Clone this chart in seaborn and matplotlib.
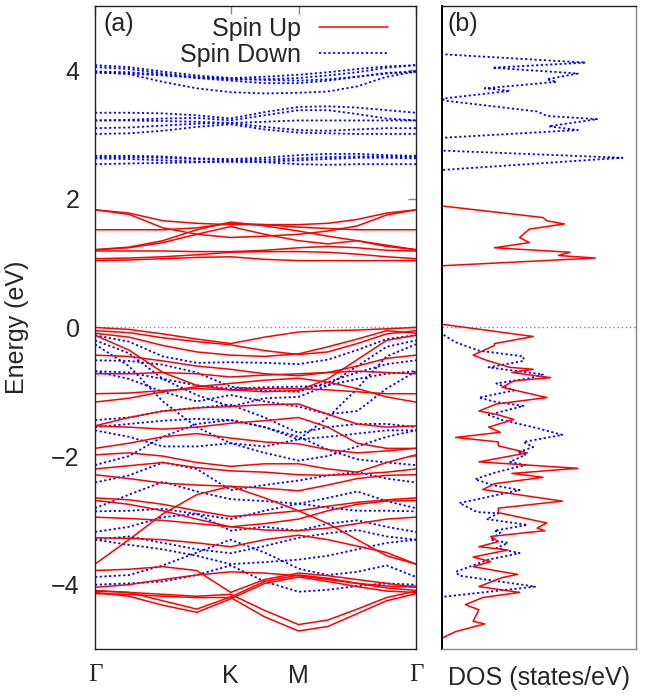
import numpy as np
import pandas as pd
import matplotlib
matplotlib.use('Agg')
import matplotlib.pyplot as plt
from matplotlib.lines import Line2D
import seaborn as sns

# k-path nodes: Gamma, 3 points, K, mid, M, 3 points, Gamma
k_nodes = [0.0, 0.2887, 0.5774, 0.8660, 1.1547, 1.4434, 1.7321, 1.9821, 2.2321, 2.4821, 2.7321]
k_ticks = [0.0, 1.1547, 1.7321, 2.7321]
k_labels = ['Γ', 'K', 'M', 'Γ']

# spin up bands (eV) at k_nodes
up_bands = [
    # conduction
    [1.83, 1.78, 1.66, 1.62, 1.60, 1.60, 1.60, 1.62, 1.68, 1.78, 1.83],
    [1.83, 1.76, 1.55, 1.45, 1.40, 1.42, 1.45, 1.50, 1.58, 1.75, 1.83],
    [1.52, 1.52, 1.52, 1.55, 1.62, 1.60, 1.56, 1.54, 1.52, 1.52, 1.52],
    [1.21, 1.25, 1.35, 1.52, 1.64, 1.58, 1.50, 1.42, 1.35, 1.26, 1.21],
    [1.21, 1.24, 1.32, 1.45, 1.57, 1.45, 1.35, 1.30, 1.35, 1.28, 1.21],
    [1.19, 1.19, 1.19, 1.18, 1.18, 1.20, 1.24, 1.26, 1.24, 1.20, 1.19],
    [1.07, 1.08, 1.10, 1.13, 1.17, 1.18, 1.18, 1.17, 1.14, 1.10, 1.07],
    [1.04, 1.05, 1.07, 1.09, 1.10, 1.06, 1.04, 1.04, 1.04, 1.04, 1.04],
    # valence
    [0.00, -0.03, -0.10, -0.18, -0.25, -0.15, -0.07, -0.05, -0.04, -0.02, 0.00],
    [-0.05, -0.08, -0.16, -0.22, -0.27, -0.36, -0.42, -0.38, -0.25, -0.10, -0.05],
    [-0.09, -0.15, -0.28, -0.38, -0.43, -0.45, -0.41, -0.30, -0.18, -0.05, -0.09],
    [-0.12, -0.35, -0.70, -0.90, -0.97, -1.00, -0.98, -0.80, -0.50, -0.20, -0.12],
    [-0.43, -0.45, -0.52, -0.60, -0.65, -0.72, -0.75, -0.70, -0.60, -0.48, -0.43],
    [-0.72, -0.72, -0.70, -0.72, -0.77, -0.74, -0.72, -0.70, -0.68, -0.70, -0.72],
    [-1.03, -1.02, -0.98, -0.95, -0.97, -0.95, -0.95, -0.97, -1.00, -1.03, -1.03],
    [-1.16, -1.10, -1.00, -0.92, -0.87, -0.82, -0.79, -0.85, -0.95, -1.08, -1.16],
    [-1.53, -1.40, -1.30, -1.25, -1.23, -1.20, -1.19, -1.35, -1.50, -1.55, -1.53],
    [-1.53, -1.55, -1.58, -1.55, -1.49, -1.45, -1.40, -1.55, -1.80, -1.88, -1.88],
    [-1.88, -1.80, -1.70, -1.65, -1.72, -1.78, -1.81, -1.90, -1.95, -1.92, -1.88],
    [-1.98, -1.95, -2.00, -2.10, -2.16, -2.12, -2.12, -2.20, -2.25, -2.10, -1.98],
    [-2.20, -2.15, -2.10, -2.18, -2.23, -2.25, -2.29, -2.30, -2.28, -2.25, -2.20],
    [-2.29, -2.35, -2.42, -2.45, -2.47, -2.50, -2.54, -2.45, -2.35, -2.30, -2.29],
    [-3.68, -3.30, -2.90, -2.60, -2.47, -2.65, -2.85, -3.05, -3.30, -3.55, -3.68],
    [-2.65, -2.68, -2.75, -2.85, -2.94, -2.90, -2.85, -2.78, -2.72, -2.68, -2.65],
    [-2.69, -2.75, -2.85, -2.98, -3.10, -3.05, -2.98, -2.85, -2.75, -2.70, -2.69],
    [-2.95, -2.97, -3.00, -3.05, -3.10, -3.15, -3.16, -3.12, -3.05, -2.98, -2.95],
    [-3.27, -3.28, -3.30, -3.35, -3.41, -3.30, -3.23, -3.30, -3.40, -3.50, -3.68],
    [-3.78, -3.76, -3.72, -3.78, -4.12, -3.92, -3.82, -3.86, -3.92, -3.98, -4.04],
    [-4.04, -4.00, -3.92, -3.85, -3.80, -3.82, -3.86, -3.92, -3.98, -4.02, -4.04],
    [-4.09, -4.12, -4.25, -4.38, -4.19, -3.95, -3.85, -3.90, -3.98, -4.05, -4.09],
    [-4.12, -4.18, -4.32, -4.43, -4.22, -3.98, -3.88, -3.95, -4.03, -4.10, -4.12],
    [-4.10, -4.12, -4.15, -4.18, -4.15, -4.40, -4.62, -4.55, -4.38, -4.20, -4.10],
    [-4.14, -4.15, -4.18, -4.20, -4.20, -4.50, -4.72, -4.65, -4.45, -4.25, -4.14],
]

# spin down bands (eV) at k_nodes
dn_bands = [
    # conduction
    [4.08, 4.05, 3.98, 3.92, 3.88, 3.90, 3.93, 3.97, 4.02, 4.06, 4.08],
    [4.05, 4.02, 3.95, 3.89, 3.86, 3.86, 3.88, 3.92, 3.97, 4.04, 4.08],
    [3.98, 3.97, 3.93, 3.88, 3.84, 3.80, 3.80, 3.84, 3.90, 3.96, 3.98],
    [3.98, 3.94, 3.82, 3.72, 3.66, 3.64, 3.65, 3.67, 3.75, 3.90, 3.98],
    [3.96, 3.95, 3.92, 3.89, 3.87, 3.85, 3.84, 3.86, 3.90, 3.95, 3.98],
    [3.34, 3.34, 3.33, 3.30, 3.25, 3.35, 3.43, 3.44, 3.42, 3.38, 3.34],
    [3.22, 3.23, 3.25, 3.26, 3.22, 3.30, 3.38, 3.38, 3.32, 3.25, 3.22],
    [3.22, 3.22, 3.21, 3.20, 3.18, 3.20, 3.22, 3.22, 3.22, 3.22, 3.22],
    [3.10, 3.11, 3.14, 3.17, 3.18, 3.12, 3.07, 3.06, 3.08, 3.10, 3.10],
    [3.01, 3.02, 3.06, 3.12, 3.16, 3.08, 3.03, 3.02, 3.01, 3.01, 3.01],
    [2.67, 2.67, 2.66, 2.63, 2.62, 2.64, 2.68, 2.70, 2.70, 2.68, 2.67],
    [2.65, 2.65, 2.64, 2.62, 2.60, 2.61, 2.63, 2.65, 2.66, 2.66, 2.65],
    [2.63, 2.62, 2.60, 2.58, 2.58, 2.58, 2.60, 2.62, 2.64, 2.64, 2.63],
    [2.54, 2.55, 2.56, 2.57, 2.58, 2.57, 2.54, 2.53, 2.54, 2.54, 2.54],
    # valence
    [-0.12, -0.22, -0.45, -0.55, -0.54, -0.55, -0.57, -0.50, -0.35, -0.18, -0.12],
    [-0.20, -0.40, -0.80, -1.05, -1.23, -1.10, -1.08, -0.90, -0.60, -0.30, -0.20],
    [-0.26, -0.60, -1.15, -1.55, -1.80, -1.85, -1.74, -1.40, -0.95, -0.45, -0.26],
    [-0.51, -0.52, -0.58, -0.70, -0.92, -0.98, -1.00, -0.85, -0.70, -0.57, -0.51],
    [-0.68, -0.70, -0.80, -0.90, -0.95, -0.93, -0.92, -0.90, -0.80, -0.72, -0.68],
    [-0.68, -0.80, -1.00, -1.15, -1.05, -1.15, -1.23, -1.35, -1.30, -0.95, -0.68],
    [-1.44, -1.40, -1.30, -1.25, -1.20, -1.40, -1.64, -1.55, -1.50, -1.50, -1.55],
    [-1.55, -1.50, -1.45, -1.42, -1.44, -1.55, -1.74, -1.70, -1.65, -1.60, -1.60],
    [-1.60, -1.70, -1.85, -1.85, -1.80, -1.95, -2.07, -2.00, -1.85, -1.70, -1.60],
    [-2.14, -2.00, -1.70, -1.50, -1.44, -1.55, -1.70, -1.90, -2.05, -2.10, -2.14],
    [-2.41, -2.30, -2.10, -2.20, -2.53, -2.45, -2.38, -2.30, -2.25, -2.35, -2.41],
    [-2.81, -2.60, -2.40, -2.55, -2.67, -2.70, -2.74, -2.65, -2.55, -2.70, -2.81],
    [-2.86, -2.85, -2.82, -2.90, -2.98, -2.85, -2.74, -2.80, -2.85, -2.85, -2.86],
    [-3.18, -3.10, -2.95, -2.90, -3.16, -3.10, -3.16, -3.05, -3.00, -3.10, -3.18],
    [-3.30, -3.25, -3.35, -3.45, -3.51, -3.40, -3.27, -3.20, -3.15, -3.25, -3.30],
    [-3.30, -3.38, -3.45, -3.55, -3.68, -3.65, -3.61, -3.55, -3.45, -3.35, -3.30],
    [-3.88, -3.85, -3.70, -3.50, -3.30, -3.50, -3.75, -3.85, -3.80, -3.70, -3.88],
    [-4.00, -3.98, -3.95, -3.85, -3.70, -3.95, -4.11, -4.08, -4.02, -3.98, -4.00],
]

# DOS (states/eV)
dos_up_E = [5.0, 1.89, 1.71, 1.66, 1.61, 1.53, 1.40, 1.32, 1.24, 1.17, 1.12, 1.08, 0.96,
            0.05, -0.14, -0.25, -0.28, -0.43, -0.51, -0.62, -0.65, -0.70, -0.78, -0.83, -0.93,
            -1.09, -1.19, -1.30, -1.35, -1.43, -1.55, -1.63, -1.71, -1.78, -1.84, -1.95, -2.09,
            -2.19, -2.27, -2.33, -2.43, -2.52, -2.70, -2.81, -2.88, -3.04, -3.12, -3.16, -3.25,
            -3.33, -3.41, -3.46, -3.57, -3.64, -3.72, -3.84, -3.89, -4.03, -4.12, -4.20, -4.31,
            -4.39, -4.57, -4.61, -4.73, -4.83, -5.0]
dos_up = [0.0, 0.0, 5.2, 5.4, 6.3, 4.5, 4.0, 4.5, 2.7, 6.6, 6.0, 7.9, 0.0,
          0.0, 4.7, 2.7, 2.7, 1.6, 2.3, 3.5, 4.7, 3.6, 5.6, 3.7, 3.1,
          5.4, 2.8, 1.9, 2.8, 3.7, 2.4, 3.0, 0.7, 2.9, 2.9, 4.4, 1.9,
          7.0, 3.6, 5.2, 2.7, 2.1, 6.2, 2.9, 2.9, 5.4, 4.9, 5.3, 2.5,
          2.9, 1.9, 3.4, 1.6, 2.5, 1.6, 3.9, 3.1, 1.9, 4.0, 2.1, 1.2,
          1.9, 1.6, 2.2, 0.7, 0.0, 0.0]

dos_dn_E = [5.0, 4.25, 4.12, 4.04, 3.95, 3.86, 3.82, 3.72, 3.68, 3.56, 3.53, 3.36, 3.29,
            3.24, 3.13, 3.07, 2.95, 2.77, 2.75, 2.64, 2.45,
            -0.10, -0.23, -0.36, -0.45, -0.52, -0.62, -0.73, -0.79, -0.87, -0.98, -1.09, -1.16,
            -1.22, -1.36, -1.44, -1.55, -1.67, -1.78, -1.86, -1.94, -1.98, -2.09, -2.14, -2.25,
            -2.36, -2.45, -2.53, -2.73, -2.87, -2.89, -2.98, -3.07, -3.16, -3.19, -3.30, -3.35,
            -3.43, -3.51, -3.61, -3.80, -3.86, -4.03, -4.19, -5.0]
dos_dn = [0.0, 0.0, 7.4, 2.6, 7.0, 5.4, 5.9, 2.2, 3.5, 0.05, 0.1, 4.9, 5.4,
          8.0, 5.5, 7.0, 0.0, 0.0, 0.1, 9.3, 0.0,
          0.0, 0.7, 1.9, 4.2, 4.2, 2.4, 5.2, 4.5, 2.8, 3.7, 1.9, 2.8,
          4.2, 2.4, 3.1, 4.7, 6.2, 4.2, 4.7, 3.9, 4.3, 3.5, 4.3, 2.8,
          1.7, 2.6, 4.0, 0.9, 1.8, 2.9, 2.3, 4.4, 2.7, 3.0, 2.5, 3.4,
          2.8, 4.0, 2.4, 0.7, 0.9, 4.8, 0.0, 0.0]

up_color = '#ff0000'
dn_color = '#0000ff'
dot = (0, (1.2, 1.4))
fs = 18


def bands_frame(bands):
    rows = []
    for i, b in enumerate(bands):
        for k, e in zip(k_nodes, b):
            rows.append((i, k, e))
    return pd.DataFrame(rows, columns=['band', 'k', 'E'])


sns.set_style('white')
plt.rcParams['font.family'] = ['Liberation Sans', 'DejaVu Sans']
plt.rcParams['font.size'] = fs

fig = plt.figure(figsize=(6.64, 6.97), dpi=100)
ax1 = fig.add_axes([0.1431, 0.0689, 0.4834, 0.9225])
ax2 = fig.add_axes([0.6657, 0.0689, 0.2922, 0.9225])

# Fermi level
ax1.axhline(0, color='#888888', lw=1.0, ls=(0, (1, 2)), zorder=1)
ax2.axhline(0, color='#888888', lw=1.0, ls=(0, (1, 2)), zorder=1)

# band structure
sns.lineplot(data=bands_frame(up_bands), x='k', y='E', units='band', estimator=None,
             sort=False, color=up_color, lw=1.1, ax=ax1, zorder=3)
sns.lineplot(data=bands_frame(dn_bands), x='k', y='E', units='band', estimator=None,
             sort=False, color=dn_color, lw=1.3, ls=dot, ax=ax1, zorder=2)

ax1.set_xlim(k_ticks[0], k_ticks[-1])
ax1.set_ylim(-5, 5)
ax1.set_xticks(k_ticks)
ax1.set_xticklabels(k_labels)
for lab in ax1.get_xticklabels():
    if lab.get_text() == 'Γ':
        lab.set_fontfamily(['Liberation Serif', 'DejaVu Serif'])
ax1.set_yticks([-4, -2, 0, 2, 4])
ax1.set_yticklabels(['\u22124', '\u22122', '0', '2', '4'])
ax1.tick_params(direction='in', length=6, width=1, color='#888888', top=True, right=True,
                labelsize=fs, pad=11)
ax1.set_xlabel('')
ax1.set_ylabel('Energy (eV)', fontsize=fs, labelpad=16)
ax1.text(0.025, 0.99, '(a)', transform=ax1.transAxes, ha='left', va='top', fontsize=fs)

handles = [Line2D([], [], color=up_color, lw=1.1),
           Line2D([], [], color=dn_color, lw=1.3, ls=dot)]
ax1.legend(handles, ['Spin Up', 'Spin Down'], loc='upper right', bbox_to_anchor=(0.935, 0.995),
           frameon=False, markerfirst=False, handlelength=2.75, handletextpad=0.7,
           labelspacing=0.1, fontsize=fs, borderaxespad=0.0, borderpad=0.3)

# DOS
sns.lineplot(x=dos_up, y=dos_up_E, orient='y', sort=False, estimator=None,
             color=up_color, lw=1.1, ax=ax2, zorder=3)
sns.lineplot(x=dos_dn, y=dos_dn_E, orient='y', sort=False, estimator=None,
             color=dn_color, lw=1.3, ls=dot, ax=ax2, zorder=2)
ax2.set_xlim(0, 10)
ax2.set_ylim(-5, 5)
ax2.set_xticks([])
ax2.set_yticks([])
ax2.set_ylabel('')
ax2.set_xlabel('DOS (states/eV)', fontsize=fs, labelpad=12)
ax2.text(0.03, 0.99, '(b)', transform=ax2.transAxes, ha='left', va='top', fontsize=fs)

for ax in (ax1, ax2):
    for s in ax.spines.values():
        s.set_color('#222222')
        s.set_linewidth(1.0)
        s.set_zorder(5)
ax2.spines['left'].set_linewidth(1.4)
ax2.spines['left'].set_color('#000000')
ax2.spines['right'].set_color('#888888')
ax2.spines['bottom'].set_color('#888888')

fig.savefig('out.png', dpi=100)
